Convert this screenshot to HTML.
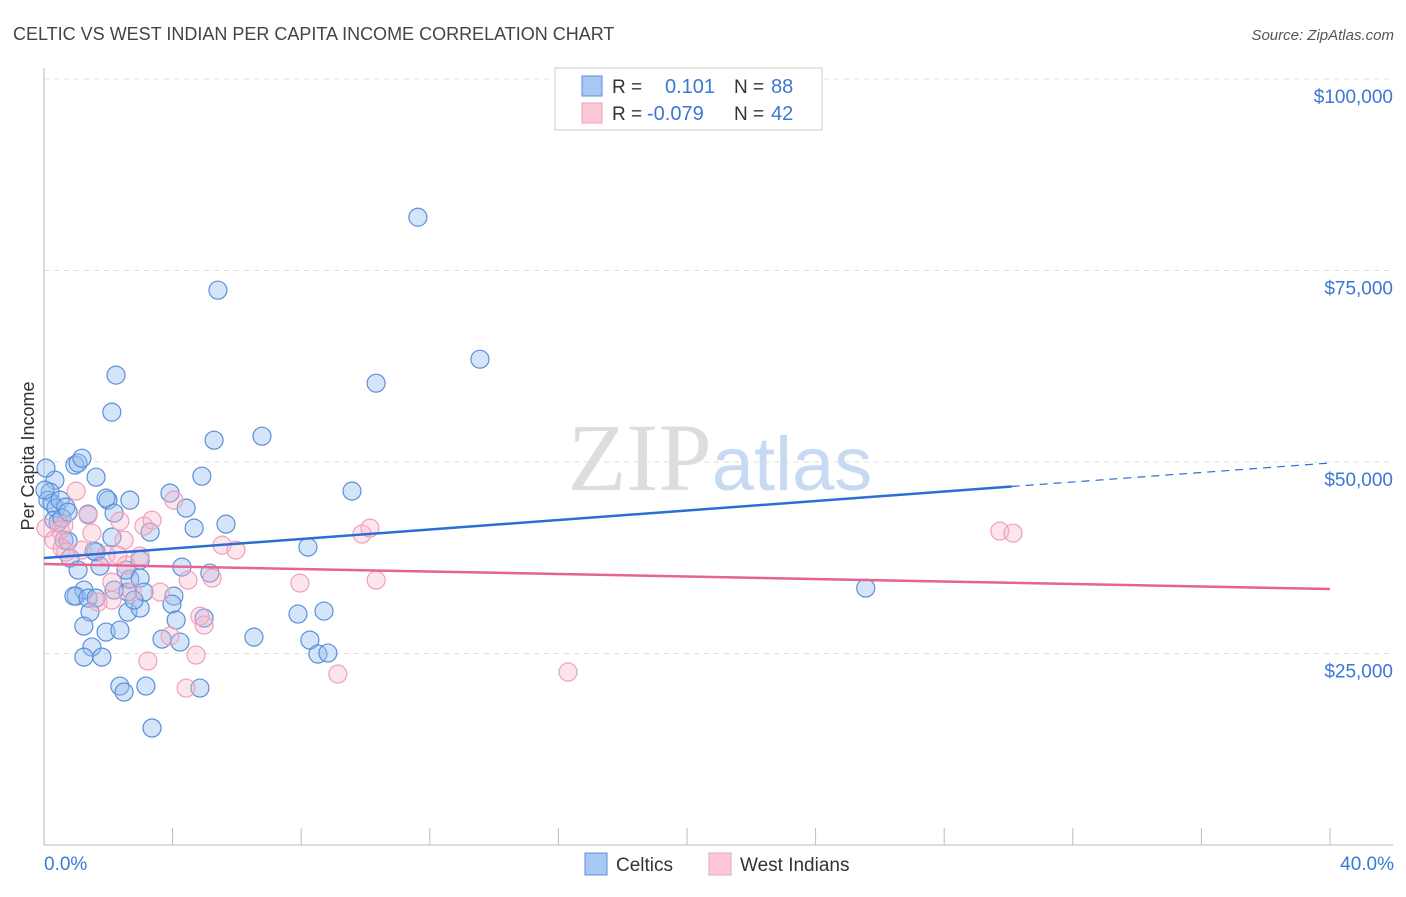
<!DOCTYPE html>
<html><head><meta charset="utf-8"><style>
body{margin:0;background:#fff;font-family:"Liberation Sans",sans-serif}
</style></head><body>
<svg id="chart" width="1406" height="892" xmlns="http://www.w3.org/2000/svg" font-family="Liberation Sans, sans-serif">
<text x="13" y="40" font-size="18" fill="#444">CELTIC VS WEST INDIAN PER CAPITA INCOME CORRELATION CHART</text>
<text x="1394" y="40" font-size="15" fill="#555" text-anchor="end" font-style="italic">Source: ZipAtlas.com</text>
<text x="720" y="490" font-size="96" fill="#ddd" text-anchor="middle" font-family="Liberation Serif, serif">ZIP<tspan fill="#c8daf2" font-family="Liberation Sans, sans-serif" font-size="76">atlas</tspan></text>
<g id="grid"></g>
<g id="axes"></g>
<g id="points"></g>
<g id="trends"></g>
<text transform="translate(34,456) rotate(-90)" font-size="18" fill="#333" text-anchor="middle">Per Capita Income</text>
<text x="44" y="870" font-size="19" fill="#3a78d4">0.0%</text>
<text x="1394" y="870" font-size="19" fill="#3a78d4" text-anchor="end">40.0%</text>
<g>
<rect x="555" y="68" width="267" height="62" fill="#fff" stroke="#ccc"/>
<rect x="582" y="76" width="20" height="20" fill="#a8c8f4" stroke="#5b8fd9"/>
<rect x="582" y="103" width="20" height="20" fill="#fcc8d8" stroke="#f0a0b8"/>
<text x="612" y="93" font-size="19" fill="#333">R = </text><text x="665" y="93" font-size="20" fill="#3a78d4">0.101</text>
<text x="734" y="93" font-size="19" fill="#333">N = </text><text x="771" y="93" font-size="20" fill="#3a78d4">88</text>
<text x="612" y="120" font-size="19" fill="#333">R = </text><text x="647" y="120" font-size="20" fill="#3a78d4">-0.079</text>
<text x="734" y="120" font-size="19" fill="#333">N = </text><text x="771" y="120" font-size="20" fill="#3a78d4">42</text>
</g>
<g>
<rect x="585" y="853" width="22" height="22" fill="#a8c8f4" stroke="#5b8fd9"/>
<text x="616" y="871" font-size="19" fill="#333">Celtics</text>
<rect x="709" y="853" width="22" height="22" fill="#fcc8d8" stroke="#f0a0b8"/>
<text x="740" y="871" font-size="19" fill="#333">West Indians</text>
</g>
</svg>
<script>
const yTicks=[25000,50000,75000,100000];
const yTickLabels=["$25,000","$50,000","$75,000","$100,000"];
const xTicks=[0,4,8,12,16,20,24,28,32,36,40];
const celticX=[0.34,0.19,0.12,0.25,0.37,0.50,0.68,0.31,0.44,0.56,0.75,0.62,0.75,0.81,0.96,1.06,1.18,1.62,1.99,1.93,2.67,2.18,1.37,2.11,1.62,1.74,1.56,1.06,1.00,1.24,0.93,1.37,1.62,1.43,1.24,1.93,2.36,1.49,1.24,1.80,2.61,2.99,2.61,2.67,2.55,2.99,3.11,2.36,2.49,3.17,3.36,2.24,2.11,3.30,3.92,4.42,4.67,5.66,4.91,5.29,5.41,6.78,4.29,5.16,4.04,3.98,4.11,4.98,3.67,4.23,4.85,6.53,8.21,7.90,8.71,8.27,8.52,8.83,9.58,10.33,11.63,13.56,25.56,2.99,2.80,2.18,0.06,0.03];
const celticY=[47630,46070,45020,44630,43980,45020,44110,42410,42150,42670,43460,39800,39670,37450,49590,49850,50500,48020,45020,45280,45020,43330,43200,40190,38240,36410,38370,35890,32490,33280,32490,32230,32230,30410,28580,27800,28060,25840,24530,24530,30410,30930,33020,34710,35890,34840,33020,20750,19970,20750,15270,61340,56510,40850,45940,43980,41370,41890,48150,52850,72430,53370,36280,35500,32490,31450,29360,29620,26880,26490,20490,27140,38890,30150,30540,26750,24930,25060,46200,60290,81950,63420,33540,37190,31970,33280,49200,46330];
const wiX=[1.00,0.62,0.50,0.06,0.31,0.56,0.68,1.37,1.49,1.93,2.36,2.49,3.11,3.36,4.04,2.99,2.55,2.11,2.11,1.68,2.74,3.61,4.48,5.23,5.54,5.97,4.85,4.98,3.92,3.23,4.42,4.73,7.96,9.89,10.14,10.33,9.14,16.30,29.73,30.14,2.30,1.18];
const wiY=[46200,41760,41110,41370,39800,38760,38240,43070,40720,37850,42280,39800,41630,42410,45020,37710,36540,34320,31970,31710,33020,33020,34580,34840,39150,38500,29880,28710,27270,24010,20490,24800,34190,40590,41370,34580,22320,22580,40980,40720,37850,38500];
const celticTrend=[37470,49870]; // at 0% and 40%
const wiTrend=[36680,33420];
const celticSolidEnd=30.1;

const NS="http://www.w3.org/2000/svg";
const X=v=>44+v/40*1286;
const Y=v=>845-v/100000*766;
function mk(tag,attrs,parent){const e=document.createElementNS(NS,tag);for(const k in attrs)e.setAttribute(k,attrs[k]);document.getElementById(parent).appendChild(e);return e;}

yTicks.forEach((t,i)=>{
  const l=mk('line',{x1:44,x2:1393,y1:Y(t),y2:Y(t),stroke:'#ddd','stroke-dasharray':'5,5'},'grid');
  
  
  const tx=mk('text',{x:1393,y:Y(t)+24,'font-size':19,fill:'#3a78d4','text-anchor':'end'},'grid');
  tx.textContent=yTickLabels[i];
  
  
});
const ax=mk('line',{x1:44,x2:44,y1:68,y2:845,stroke:'#bbb'},'axes');


const bx=mk('line',{x1:44,x2:1393,y1:845,y2:845,stroke:'#bbb'},'axes');


xTicks.forEach(t=>{
  const l=mk('line',{x1:X(t),x2:X(t),y1:828,y2:845,stroke:'#bbb'},'axes');
  
  
});
celticX.forEach((x,i)=>{
  const c=mk('circle',{cx:X(x),cy:Y(celticY[i]),r:9,fill:'rgba(150,190,240,0.4)',stroke:'#5b8fd9','stroke-width':1.2},'points');
  
  
});
wiX.forEach((x,i)=>{
  const c=mk('circle',{cx:X(x),cy:Y(wiY[i]),r:9,fill:'rgba(248,180,200,0.35)',stroke:'#f0a0b8','stroke-width':1.2},'points');
  
  
});
const cy=x=>celticTrend[0]+(celticTrend[1]-celticTrend[0])*x/40;
const t1=mk('line',{x1:X(0),y1:Y(cy(0)),x2:X(celticSolidEnd),y2:Y(cy(celticSolidEnd)),stroke:'#2a6fd6','stroke-width':2.5},'trends');


const t2=mk('line',{x1:X(celticSolidEnd),y1:Y(cy(celticSolidEnd)),x2:X(40),y2:Y(cy(40)),stroke:'#2a6fd6','stroke-width':1.2,'stroke-dasharray':'8,6'},'trends');


const t3=mk('line',{x1:X(0),y1:Y(wiTrend[0]),x2:X(40),y2:Y(wiTrend[1]),stroke:'#e8638f','stroke-width':2.5},'trends');


</script>
</body></html>
